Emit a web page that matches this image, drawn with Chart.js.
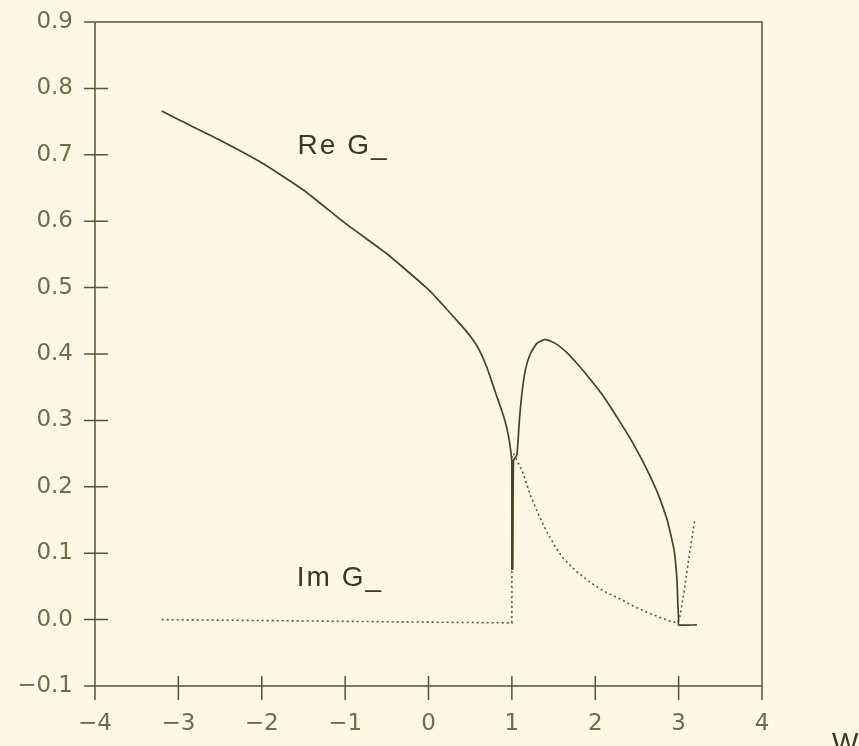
<!DOCTYPE html>
<html>
<head>
<meta charset="utf-8">
<script src="https://cdn.jsdelivr.net/npm/chart.js@4.4.1/dist/chart.umd.min.js"></script>
<style>
  html, body { margin: 0; padding: 0; background: #fbf9e6; }
  #wrap { width: 859px; height: 746px; }
</style>
</head>
<body>
<div id="wrap"><canvas id="plot" width="859" height="746"></canvas></div>
<script>
// Re G_ (solid curve)
var reX = [-3.2, -3.0, -2.5, -2.0, -1.5, -1.0, -0.5, 0.0, 0.2, 0.4, 0.5, 0.6, 0.7, 0.8, 0.87, 0.92, 0.96, 0.98, 1.0, 1.0, 1.01, 1.02,
           1.06, 1.09, 1.12, 1.16, 1.22, 1.3, 1.4, 1.52, 1.66, 1.8, 1.94, 2.1, 2.3, 2.46, 2.62, 2.75, 2.86, 2.92,
           2.95, 2.98, 2.99, 3.0, 3.0, 3.22];
var reY = [0.766, 0.753, 0.722, 0.688, 0.647, 0.597, 0.551, 0.497, 0.47, 0.442, 0.427, 0.408, 0.38, 0.343, 0.318, 0.298, 0.276, 0.26, 0.237, 0.076, 0.076, 0.24,
           0.248, 0.3, 0.34, 0.375, 0.4, 0.416, 0.422, 0.416, 0.402, 0.383, 0.362, 0.336, 0.297, 0.264, 0.226, 0.19, 0.151, 0.12,
           0.101, 0.06, 0.026, 0.0, -0.008, -0.008];

// Im G_ (dotted curve)
var imX = [-3.2, 1.0, 1.0, 1.02, 1.06, 1.13, 1.22, 1.32, 1.42, 1.52, 1.61, 1.78, 1.94, 2.1, 2.3, 2.46, 2.62, 2.76, 2.89, 2.98,
           3.01, 3.07, 3.13, 3.19];
var imY = [0.0, -0.005, 0.245, 0.25, 0.24, 0.222, 0.188, 0.158, 0.132, 0.11, 0.093, 0.072, 0.056, 0.043, 0.031, 0.02, 0.011, 0.004, -0.002, -0.005,
           0.001, 0.046, 0.099, 0.148];

var xTicks = [-4, -3, -2, -1, 0, 1, 2, 3, 4];
var yTicks = [-0.1, 0.0, 0.1, 0.2, 0.3, 0.4, 0.5, 0.6, 0.7, 0.8, 0.9];

var ink = '#4a4220';
var axisInk = '#5c5232';
var labelInk = '#746b4a';

function pairs(xs, ys) {
    return xs.map(function (x, i) { return { x: x, y: ys[i] }; });
}

function fmt(v, digits) {
    var s = Math.abs(v) < 1e-9 ? (0).toFixed(digits) : v.toFixed(digits);
    return s.replace('-', '\u2212');
}

// frame, crossing tick marks and the text labels in the plot
var framePlugin = {
    id: 'frame',
    afterDraw: function (chart) {
        var ctx = chart.ctx;
        var a = chart.chartArea;
        var xs = chart.scales.x, ys = chart.scales.y;
        ctx.save();
        ctx.strokeStyle = axisInk;
        ctx.lineWidth = 1.5;
        ctx.beginPath();
        ctx.moveTo(a.left - 11, a.top);
        ctx.lineTo(a.right, a.top);
        ctx.lineTo(a.right, a.bottom + 14);
        ctx.moveTo(a.left, a.top);
        ctx.lineTo(a.left, a.bottom + 14);
        ctx.moveTo(a.left - 11, a.bottom);
        ctx.lineTo(a.right, a.bottom);
        yTicks.forEach(function (v) {
            var py = ys.getPixelForValue(v);
            ctx.moveTo(a.left - 11, py);
            ctx.lineTo(a.left + 13, py);
        });
        xTicks.forEach(function (v) {
            var px = xs.getPixelForValue(v);
            ctx.moveTo(px, a.bottom - 10);
            ctx.lineTo(px, a.bottom + 14);
        });
        ctx.stroke();

        ctx.fillStyle = '#3f3820';
        ctx.font = '28px "Liberation Sans", Arial, sans-serif';
        ctx.letterSpacing = '2px';
        ctx.textBaseline = 'alphabetic';
        ctx.textAlign = 'left';
        ctx.fillText('Re G_', xs.getPixelForValue(-1.57), ys.getPixelForValue(0.701));
        ctx.fillText('Im G_', xs.getPixelForValue(-1.58), ys.getPixelForValue(0.05));
        ctx.fillText('W', 832, 746 + 6);
        ctx.restore();
    }
};

var tickFont = { family: '"DejaVu Sans", sans-serif', size: 23 };

new Chart(document.getElementById('plot').getContext('2d'), {
    type: 'line',
    data: {
        datasets: [{
            label: 'Re G_',
            data: pairs(reX, reY),
            borderColor: ink,
            borderWidth: 1.7,
            pointRadius: 0,
            tension: 0.15,
            fill: false
        }, {
            label: 'Im G_',
            data: pairs(imX, imY),
            borderColor: '#5e5530',
            borderWidth: 1.6,
            borderDash: [2, 3],
            pointRadius: 0,
            tension: 0,
            fill: false
        }]
    },
    options: {
        responsive: false,
        animation: false,
        events: [],
        layout: { padding: { top: 22, right: 97, bottom: 0, left: 0 } },
        plugins: {
            legend: { display: false },
            tooltip: { enabled: false }
        },
        scales: {
            x: {
                type: 'linear',
                min: -4,
                max: 4,
                afterFit: function (s) { s.height = 60; s.paddingLeft = 0; s.paddingRight = 0; },
                afterBuildTicks: function (s) { s.ticks = xTicks.map(function (v) { return { value: v }; }); },
                grid: { display: false, drawTicks: false },
                border: { display: false },
                ticks: {
                    color: labelInk,
                    font: tickFont,
                    padding: 24,
                    maxRotation: 0,
                    callback: function (v) { return fmt(v, 0); }
                }
            },
            y: {
                type: 'linear',
                min: -0.1,
                max: 0.9,
                afterFit: function (s) { s.width = 95; s.paddingTop = 0; s.paddingBottom = 0; },
                afterBuildTicks: function (s) { s.ticks = yTicks.map(function (v) { return { value: v }; }); },
                grid: { display: false, drawTicks: false },
                border: { display: false },
                ticks: {
                    color: labelInk,
                    font: tickFont,
                    padding: 22,
                    callback: function (v) { return fmt(v, 1); }
                }
            }
        }
    },
    plugins: [framePlugin]
});
</script>
</body>
</html>
